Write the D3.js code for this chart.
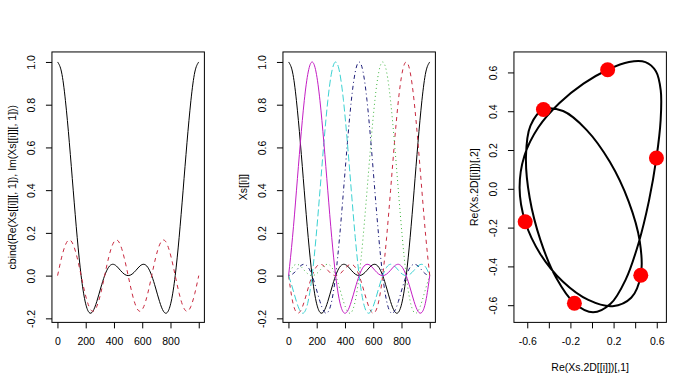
<!DOCTYPE html>
<html>
<head>
<meta charset="utf-8">
<script src="https://cdn.jsdelivr.net/npm/d3@7"></script>
<style>
  body { margin: 0; background: #fff; }
  text { font-family: "Liberation Sans", Arial, sans-serif; font-size: 10.5px; fill: #000; }
</style>
</head>
<body>
<script>
// sample positions along the 1..1000 index axis (37 samples)
const sampleX = d3.range(37).map(k => 1 + k * 999 / 36);

// panel 1: first basis column, real and imaginary part
const re1 = [1, .953, .819, .622, .397, .179, 0, -.119, -.172, -.167, -.121, -.058, 0, .039, .053, .045, .025, .007, 0, .007, .025, .045, .053, .039, 0, -.058, -.121, -.167, -.172, -.119, 0, .179, .397, .622, .819, .953, 1];
const im1 = [0, .083, .144, .167, .144, .083, 0, -.083, -.144, -.167, -.144, -.083, 0, .083, .144, .167, .144, .083, 0, -.083, -.144, -.167, -.144, -.083, 0, .083, .144, .167, .144, .083, 0, -.083, -.144, -.167, -.144, -.083, 0];

// panel 2: the six basis columns (real part)
const col1 = re1;
const col2 = [0, -.119, -.172, -.167, -.121, -.058, 0, .039, .053, .045, .025, .007, 0, .007, .025, .045, .053, .039, 0, -.058, -.121, -.167, -.172, -.119, 0, .179, .397, .622, .819, .953, 1, .953, .819, .622, .397, .179, 0];
const col3 = [0, .039, .053, .045, .025, .007, 0, .007, .025, .045, .053, .039, 0, -.058, -.121, -.167, -.172, -.119, 0, .179, .397, .622, .819, .953, 1, .953, .819, .622, .397, .179, 0, -.119, -.172, -.167, -.121, -.058, 0];
const col4 = [0, .007, .025, .045, .053, .039, 0, -.058, -.121, -.167, -.172, -.119, 0, .179, .397, .622, .819, .953, 1, .953, .819, .622, .397, .179, 0, -.119, -.172, -.167, -.121, -.058, 0, .039, .053, .045, .025, .007, 0];
const col5 = [0, -.058, -.121, -.167, -.172, -.119, 0, .179, .397, .622, .819, .953, 1, .953, .819, .622, .397, .179, 0, -.119, -.172, -.167, -.121, -.058, 0, .039, .053, .045, .025, .007, 0, .007, .025, .045, .053, .039, 0];
const col6 = [0, .179, .397, .622, .819, .953, 1, .953, .819, .622, .397, .179, 0, -.119, -.172, -.167, -.121, -.058, 0, .039, .053, .045, .025, .007, 0, .007, .025, .045, .053, .039, 0, -.058, -.121, -.167, -.172, -.119, 0];

// panel 3: closed 2D curve and its six nodes
const curveX = [.597, .636, .637, .592, .495, .343, .145, -.079, -.304, -.498, -.627, -.671, -.619, -.478, -.271, -.034, .191, .363, .452, .443, .340, .165, -.051, -.268, -.450, -.570, -.612, -.578, -.477, -.332, -.163, .010, .172, .313, .432, .528];
const curveY = [.159, .354, .507, .606, .653, .654, .614, .542, .441, .316, .169, .004, -.170, -.337, -.478, -.573, -.605, -.562, -.446, -.272, -.066, .139, .304, .401, .409, .326, .165, -.045, -.266, -.459, -.590, -.637, -.593, -.467, -.279, -.061];
const nodeX = [.597, .145, -.450, -.619, -.163, .452];
const nodeY = [.159, .614, .409, -.170, -.590, -.446];

// ticks
const idxTicks = [0, 200, 400, 600, 800, 1000];
const idxLabels = ["0", "200", "400", "600", "800", ""];
const ampTicks = [-0.2, 0, 0.2, 0.4, 0.6, 0.8, 1.0];
const ampLabels = ["-0.2", "0.0", "0.2", "0.4", "0.6", "0.8", "1.0"];
const xyTicks = [-0.6, -0.4, -0.2, 0, 0.2, 0.4, 0.6];
const xyXLabels = ["-0.6", "", "-0.2", "", "0.2", "", "0.6"];
const xyYLabels = ["-0.6", "-0.4", "-0.2", "0.0", "0.2", "0.4", "0.6"];

const colColors = ["#000000", "#c8283e", "#3cb43c", "#1c1c78", "#3cd2d2", "#c41ec4"];
const colDashes = [null, "4,4", "1,3", "1,3,4,3", "7,3", null];

const W = 693, H = 387;
const panelW = W / 3;
const lineH = 12.67;
const mar = { top: 4.1 * lineH, right: 2.1 * lineH, bottom: 5.1 * lineH, left: 4.1 * lineH };

var svg = d3.select("body").append("svg").attr("width", W).attr("height", H);

// R-style range with 4% padding
function padded(ext) {
  const r = ext[1] - ext[0];
  return [ext[0] - 0.04 * r, ext[1] + 0.04 * r];
}

function makePanel(i, xExt, yExt) {
  const x0 = i * panelW + mar.left, x1 = (i + 1) * panelW - mar.right;
  const y0 = mar.top, y1 = H - mar.bottom;
  const x = d3.scaleLinear().domain(padded(xExt)).range([x0, x1]);
  const y = d3.scaleLinear().domain(padded(yExt)).range([y1, y0]);
  const g = svg.append("g");
  return { g, x, y, x0, x1, y0, y1 };
}

function drawFrame(p, xTicks, xLabels, yTicks, yLabels, yTitle, xTitle) {
  const xa = p.g.append("g")
    .attr("transform", `translate(0,${p.y1})`)
    .call(d3.axisBottom(p.x).tickValues(xTicks).tickSize(6).tickSizeOuter(0)
      .tickFormat((d, i) => xLabels[i]));
  xa.select(".domain").remove();
  xa.selectAll("line").attr("stroke", "#000");
  xa.selectAll("text").attr("y", 23).attr("dy", 0)
    .style("font-size", "10.5px").style("font-family", "Liberation Sans, Arial, sans-serif");

  const ya = p.g.append("g")
    .attr("transform", `translate(${p.x0},0)`)
    .call(d3.axisLeft(p.y).tickValues(yTicks).tickSize(6).tickSizeOuter(0)
      .tickFormat((d, i) => yLabels[i]));
  ya.select(".domain").remove();
  ya.selectAll("line").attr("stroke", "#000");
  ya.selectAll("text")
    .attr("transform", "rotate(-90)")
    .attr("x", 0).attr("y", -16.5).attr("dy", 0)
    .attr("text-anchor", "middle")
    .style("font-size", "10.5px").style("font-family", "Liberation Sans, Arial, sans-serif");

  p.g.append("rect")
    .attr("x", p.x0).attr("y", p.y0)
    .attr("width", p.x1 - p.x0).attr("height", p.y1 - p.y0)
    .attr("fill", "none").attr("stroke", "#000").attr("stroke-width", 1);

  const cy = (p.y0 + p.y1) / 2;
  p.g.append("text")
    .attr("transform", `translate(${p.x0 - 36},${cy}) rotate(-90)`)
    .attr("text-anchor", "middle")
    .text(yTitle);

  if (xTitle) {
    p.g.append("text")
      .attr("x", (p.x0 + p.x1) / 2).attr("y", p.y1 + 49)
      .attr("text-anchor", "middle")
      .text(xTitle);
  }
}

function drawSeries(p, ys, color, dash) {
  const pts = sampleX.map((v, k) => [v, ys[k]]);
  p.g.append("path")
    .datum(pts)
    .attr("d", d3.line().x(d => p.x(d[0])).y(d => p.y(d[1])).curve(d3.curveNatural))
    .attr("fill", "none")
    .attr("stroke", color)
    .attr("stroke-width", 1)
    .attr("stroke-dasharray", dash);
}

// Panel 1
const idxExt = d3.extent(sampleX);
const ampExt = d3.extent([...re1, ...im1]);
const p1 = makePanel(0, idxExt, ampExt);
drawSeries(p1, re1, colColors[0], colDashes[0]);
drawSeries(p1, im1, colColors[1], colDashes[1]);
drawFrame(p1, idxTicks, idxLabels, ampTicks, ampLabels, "cbind(Re(Xs[[i]][, 1]), Im(Xs[[i]][, 1]))");

// Panel 2
const cols = [col1, col2, col3, col4, col5, col6];
const p2 = makePanel(1, idxExt, d3.extent(cols.flat()));
cols.forEach((c, j) => drawSeries(p2, c, colColors[j], colDashes[j]));
drawFrame(p2, idxTicks, idxLabels, ampTicks, ampLabels, "Xs[[i]]");

// Panel 3
const p3 = makePanel(2, d3.extent(curveX), d3.extent(curveY));
const loop = curveX.map((v, k) => [v, curveY[k]]);
p3.g.append("path")
  .datum(loop)
  .attr("d", d3.line().x(d => p3.x(d[0])).y(d => p3.y(d[1])).curve(d3.curveCatmullRomClosed.alpha(0.5)))
  .attr("fill", "none")
  .attr("stroke", "#000")
  .attr("stroke-width", 2);

p3.g.selectAll(".node")
  .data(nodeX.map((v, k) => [v, nodeY[k]]))
  .enter()
  .append("circle")
  .attr("class", "node")
  .attr("cx", d => p3.x(d[0]))
  .attr("cy", d => p3.y(d[1]))
  .attr("r", 7.5)
  .attr("fill", "#ff0000");

drawFrame(p3, xyTicks, xyXLabels, xyTicks, xyYLabels, "Re(Xs.2D[[i]])[,2]", "Re(Xs.2D[[i]])[,1]");
</script>
</body>
</html>
